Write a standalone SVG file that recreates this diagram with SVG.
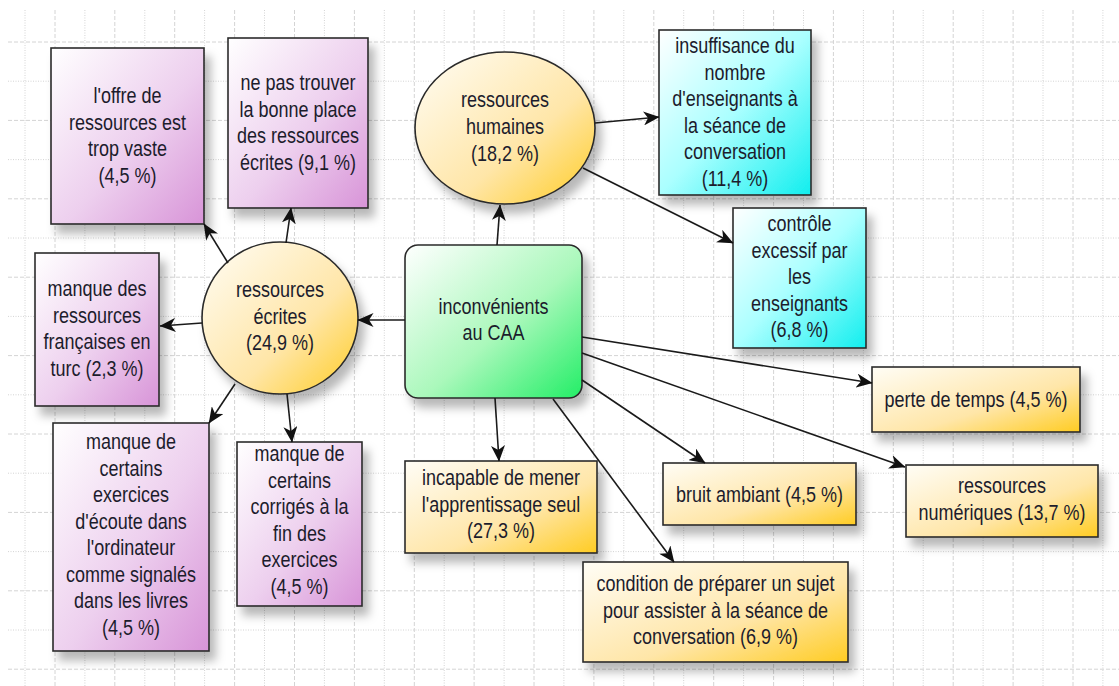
<svg xmlns="http://www.w3.org/2000/svg" width="1119" height="686" viewBox="0 0 1119 686">
<defs>
<linearGradient id="gPurple" x1="0" y1="0" x2="1" y2="1">
<stop offset="0" stop-color="#ffffff"/><stop offset="0.55" stop-color="#edcfee"/><stop offset="1" stop-color="#d894d8"/>
</linearGradient>
<linearGradient id="gYellow" x1="0" y1="0" x2="1" y2="1">
<stop offset="0" stop-color="#fffdf6"/><stop offset="0.6" stop-color="#ffe6a8"/><stop offset="1" stop-color="#ffcc22"/>
</linearGradient>
<linearGradient id="gCyan" x1="0" y1="0" x2="1" y2="1">
<stop offset="0" stop-color="#ffffff"/><stop offset="0.5" stop-color="#aaffff"/><stop offset="1" stop-color="#11eeee"/>
</linearGradient>
<linearGradient id="gGreen" x1="0" y1="0" x2="1" y2="1">
<stop offset="0" stop-color="#ffffff"/><stop offset="0.55" stop-color="#aaf8bb"/><stop offset="1" stop-color="#22ee66"/>
</linearGradient>
<filter id="shadow" x="-20%" y="-20%" width="150%" height="150%">
<feDropShadow dx="6" dy="9" stdDeviation="5" flood-color="#000" flood-opacity="0.28"/>
</filter>
<marker id="arrow" viewBox="0 0 16 14" markerWidth="16" markerHeight="14" refX="15.5" refY="7" orient="auto" markerUnits="userSpaceOnUse">
<path d="M0,0 L16,7 L0,14 L4.5,7 Z" fill="#111"/>
</marker>
<style>
.grid-a{stroke:#d4d4d4;stroke-width:1;stroke-dasharray:4 2;fill:none}
.grid-b{stroke:#d4d4d4;stroke-width:1;stroke-dasharray:1 1.5;fill:none}
.box{stroke:#2a2a2a;stroke-width:1.6}
.purple{fill:url(#gPurple)}
.yellow{fill:url(#gYellow)}
.cyan{fill:url(#gCyan)}
.green{fill:url(#gGreen)}
.shape{filter:url(#shadow)}
text{font-family:"Liberation Sans",Arial,sans-serif;font-size:18px;fill:#1c1c2c;text-anchor:middle;transform-box:fill-box;transform-origin:center;transform:scaleY(1.18)}
.conn{stroke:#1a1a1a;stroke-width:1.6;fill:none;marker-end:url(#arrow)}
</style>
</defs>
<rect x="0" y="0" width="1119" height="686" fill="#ffffff"/>
<g id="grid">
<path class="grid-a" d="M8,42H1119M8,120.4H1119M8,198.8H1119M8,277.2H1119M8,355.6H1119M8,434H1119M8,512.4H1119M8,590.8H1119M8,669.2H1119"/>
<path class="grid-b" d="M8,81.2H1119M8,159.6H1119M8,238H1119M8,316.4H1119M8,394.8H1119M8,473.2H1119M8,551.6H1119M8,630H1119"/>
<path class="grid-b" d="M25,10V686M84.9,10V686M144.8,10V686M204.6,10V686M264.5,10V686M324.4,10V686M384.3,10V686M444.2,10V686M504.1,10V686M563.9,10V686M623.8,10V686M683.7,10V686M743.6,10V686M803.5,10V686M863.4,10V686M923.2,10V686M983.1,10V686M1043,10V686M1102.9,10V686"/>
<path class="grid-a" d="M55,10V686M114.8,10V686M174.7,10V686M234.6,10V686M294.5,10V686M354.4,10V686M414.3,10V686M474.1,10V686M534,10V686M593.9,10V686M653.8,10V686M713.7,10V686M773.6,10V686M833.4,10V686M893.3,10V686M953.2,10V686M1013.1,10V686M1073,10V686"/>
</g>
<g id="n-offre">
<rect class="box purple shape" x="51" y="48" width="153" height="176"/>
<text x="127.5" y="102">l'offre de</text><text x="127.5" y="128.5">ressources est</text><text x="127.5" y="155">trop vaste</text><text x="127.5" y="181.5">(4,5 %)</text>
</g>
<g id="n-trouver">
<rect class="box purple shape" x="228" y="38" width="140" height="170"/>
<text x="298" y="89">ne pas trouver</text><text x="298" y="115.5">la bonne place</text><text x="298" y="142">des ressources</text><text x="298" y="168.5">écrites (9,1 %)</text>
</g>
<g id="n-humaines">
<ellipse class="box yellow shape" cx="505" cy="128" rx="90" ry="76"/>
<text x="505" y="106">ressources</text><text x="505" y="133">humaines</text><text x="505" y="160">(18,2 %)</text>
</g>
<g id="n-insuffisance">
<rect class="box cyan shape" x="659" y="30" width="152" height="165"/>
<text x="735" y="52">insuffisance du</text><text x="735" y="78.5">nombre</text><text x="735" y="105">d'enseignants à</text><text x="735" y="131.5">la séance de</text><text x="735" y="158">conversation</text><text x="735" y="184.5">(11,4 %)</text>
</g>
<g id="n-controle">
<rect class="box cyan shape" x="733" y="208" width="133" height="140"/>
<text x="799.5" y="230">contrôle</text><text x="799.5" y="256.5">excessif par</text><text x="799.5" y="283">les</text><text x="799.5" y="309.5">enseignants</text><text x="799.5" y="336">(6,8 %)</text>
</g>
<g id="n-ecrites">
<ellipse class="box yellow shape" cx="280" cy="318" rx="78" ry="76"/>
<text x="280" y="296">ressources</text><text x="280" y="322.5">écrites</text><text x="280" y="349">(24,9 %)</text>
</g>
<g id="n-francaises">
<rect class="box purple shape" x="35" y="253" width="124" height="153"/>
<text x="97" y="295">manque des</text><text x="97" y="321.5">ressources</text><text x="97" y="348">françaises en</text><text x="97" y="374.5">turc (2,3 %)</text>
</g>
<g id="n-centre">
<rect class="box green shape" x="405" y="245" width="177" height="153" rx="13" ry="13"/>
<text x="493.5" y="312.5">inconvénients</text><text x="493.5" y="339">au CAA</text>
</g>
<g id="n-ecoute">
<rect class="box purple shape" x="53" y="423" width="156" height="228"/>
<text x="131" y="448">manque de</text><text x="131" y="474.5">certains</text><text x="131" y="501">exercices</text><text x="131" y="527.5">d'écoute dans</text><text x="131" y="554">l'ordinateur</text><text x="131" y="580.5">comme signalés</text><text x="131" y="607">dans les livres</text><text x="131" y="633.5">(4,5 %)</text>
</g>
<g id="n-corriges">
<rect class="box purple shape" x="237" y="442" width="125" height="164"/>
<text x="299.5" y="460">manque de</text><text x="299.5" y="486.5">certains</text><text x="299.5" y="513">corrigés à la</text><text x="299.5" y="539.5">fin des</text><text x="299.5" y="566">exercices</text><text x="299.5" y="592.5">(4,5 %)</text>
</g>
<g id="n-incapable">
<rect class="box yellow shape" x="405" y="461" width="192" height="92"/>
<text x="501" y="484">incapable de mener</text><text x="501" y="510.5">l'apprentissage seul</text><text x="501" y="537">(27,3 %)</text>
</g>
<g id="n-bruit">
<rect class="box yellow shape" x="663" y="463" width="193" height="62"/>
<text x="759.5" y="501">bruit ambiant (4,5 %)</text>
</g>
<g id="n-condition">
<rect class="box yellow shape" x="583" y="562" width="265" height="100"/>
<text x="715.5" y="590">condition de préparer un sujet</text><text x="715.5" y="616.5">pour assister à la séance de</text><text x="715.5" y="643">conversation (6,9 %)</text>
</g>
<g id="n-perte">
<rect class="box yellow shape" x="872" y="367" width="208" height="65"/>
<text x="976" y="406">perte de temps (4,5 %)</text>
</g>
<g id="n-numeriques">
<rect class="box yellow shape" x="906" y="465" width="192" height="72"/>
<text x="1002" y="492">ressources</text><text x="1002" y="518.5">numériques (13,7 %)</text>
</g>
<g id="connectors">
<path class="conn" d="M497,245 L500,205"/>
<path class="conn" d="M595,123 L659,117"/>
<path class="conn" d="M583,168 L733,243"/>
<path class="conn" d="M405,320 L358,320"/>
<path class="conn" d="M202,323 L160,326"/>
<path class="conn" d="M228,263 L204,224"/>
<path class="conn" d="M286,243 L291,208"/>
<path class="conn" d="M235,384 L209,423"/>
<path class="conn" d="M287,394 L292,442"/>
<path class="conn" d="M495,398 L499,461"/>
<path class="conn" d="M553,399 L674,562"/>
<path class="conn" d="M582,380 L705,463"/>
<path class="conn" d="M582,337 L872,383"/>
<path class="conn" d="M582,353 L905,467"/>
</g>
</svg>
